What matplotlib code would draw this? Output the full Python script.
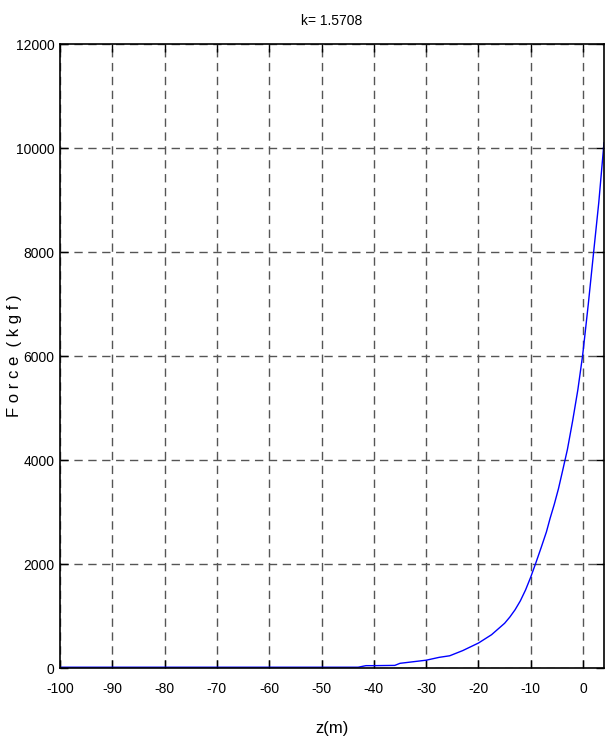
import matplotlib
matplotlib.use("Agg")
import matplotlib.pyplot as plt

# depth (m) and force (kgf)
z = [-100, -60, -43, -41.5, -40, -36, -35, -32.5, -30, -27.5, -25.5, -23,
     -20, -17.5, -15, -14, -13, -12, -11, -10, -9, -8, -7, -6.3, -5.5, -4.7,
     -3.9, -3, -2, -1, -0.1, 0.4, 1, 2, 3, 4]
force = [15, 15, 15, 45, 45, 50, 90, 120, 150, 205, 235, 335,
         480, 640, 860, 980, 1120, 1290, 1500, 1750, 2030, 2320, 2620, 2880,
         3150, 3450, 3800, 4200, 4750, 5350, 6000, 6450, 7000, 7980, 8950, 10100]

xticks = list(range(-100, 1, 10))
yticks = list(range(0, 12001, 2000))

plt.rcParams['font.family'] = ['Liberation Sans Narrow', 'Liberation Sans', 'DejaVu Sans']

fig = plt.figure(figsize=(6.05, 7.42), dpi=100)
ax = fig.add_axes([60/605, 1 - 668/742, 544/605, 624/742])

ax.plot(z, force, color='blue', linewidth=1.0)

ax.set_xlim(-100, 4)
ax.set_ylim(0, 12000)
ax.set_xticks(xticks)
ax.set_yticks(yticks)
ax.set_xticklabels([str(t) for t in xticks], fontsize=10)
ax.set_yticklabels([str(t) for t in yticks], fontsize=10)

ax.grid(True, color='#555555', linestyle=(0, (6, 4)), linewidth=1.0)
ax.tick_params(direction='in', length=6, width=1, top=True, right=True)
ax.tick_params(axis='x', pad=10)
ax.tick_params(axis='y', pad=4)
for s in ax.spines.values():
    s.set_linewidth(1.2)

ax.set_title('k= 1.5708', fontsize=10, pad=14)
ax.set_xlabel('z(m)', fontsize=12, labelpad=18)
ax.set_ylabel('F o r c e  ( k g f )', fontsize=12)
ax.yaxis.set_label_coords(-0.07, 0.5)

fig.savefig('out.png', dpi=100)
